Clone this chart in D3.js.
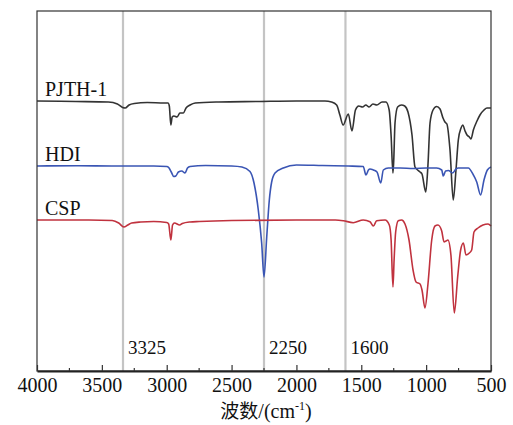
<!DOCTYPE html>
<html>
<head>
<meta charset="utf-8">
<script src="https://cdn.jsdelivr.net/npm/d3@7"></script>
<style>
  body { margin: 0; background: #fff; }
  text { font-family: "Liberation Serif", "Times New Roman", serif; fill: #111; }
</style>
</head>
<body>
<svg id="chart" width="513" height="425"></svg>
<script>
// FTIR spectra of PJTH-1, HDI and CSP (offset for clarity)

// series names, colours and vertical offset of each baseline (a.u.)
const seriesNames = ['PJTH-1', 'HDI', 'CSP'];
const seriesColors = ['#333333', '#3a55b4', '#c0323e'];
const seriesOffsets = [270, 205, 151];

// [wavenumber, change from baseline]
const pjth = [
  [4000, 0], [3700, -0.5], [3450, -1], [3380, -3], [3340, -6.5], [3320, -7], [3290, -4],
  [3250, -2.5], [3150, -1.5], [3020, -2], [2990, -2], [2980, -5], [2968, -24], [2958, -16],
  [2944, -15], [2920, -16], [2898, -12], [2872, -12], [2851, -7], [2820, -4], [2780, -2],
  [2600, -1], [2300, -0.5], [2000, 0], [1780, 0], [1730, -1], [1690, -4], [1665, -14],
  [1640, -24], [1600, -13], [1572, -30], [1545, -9], [1520, -5], [1490, -6], [1465, -4],
  [1440, -6], [1410, -3], [1380, -4], [1340, -1], [1310, -1], [1285, -9], [1270, -35],
  [1256, -72], [1250, -60], [1240, -22], [1220, -6], [1190, -4], [1165, -5], [1140, -11],
  [1109, -34], [1086, -66], [1047, -71], [1032, -73], [1003, -91], [986, -64], [970, -22],
  [947, -9], [919, -5.5], [893, -8], [870, -17], [855, -21], [840, -23], [816, -49],
  [791, -99], [770, -69], [752, -39], [731, -27], [718, -24], [700, -30], [685, -34],
  [667, -36], [654, -38], [636, -29], [608, -20], [585, -14], [554, -9], [531, -7], [500, -7]
];

const hdi = [
  [4000, 0], [3700, 0.3], [3400, 0], [3100, 0], [3000, -0.5], [2985, -1.5], [2965, -6],
  [2945, -10.5], [2930, -10], [2910, -6], [2884, -5], [2859, -7], [2840, -2], [2820, -0.5],
  [2700, 0.5], [2500, 0], [2420, -1], [2358, -5.5], [2327, -17], [2294, -44], [2268, -77],
  [2250, -111], [2229, -71], [2209, -34], [2191, -16], [2165, -7], [2101, -2], [2000, 1],
  [1800, 0.5], [1600, 0], [1485, -0.5], [1464, -9], [1445, -4], [1433, -3], [1407, -4],
  [1379, -6], [1350, -17], [1330, -4], [1292, -2], [1200, -2], [1100, -2.5], [1000, -2],
  [919, -2], [880, -4], [868, -10], [850, -5], [829, -4.5], [795, -7], [770, -3], [752, -2],
  [675, -2], [636, -9], [610, -16], [580, -29], [554, -14], [528, -4], [500, -1]
];

const csp = [
  [4000, 0], [3600, 0], [3420, -0.5], [3370, -3], [3330, -7], [3300, -5], [3270, -3],
  [3200, -2], [3100, -1.5], [3000, -2.5], [2985, -4], [2968, -20], [2955, -5], [2940, -3],
  [2900, -5], [2880, -3.5], [2820, -2], [2750, -1.5], [2500, -0.5], [2000, 0], [1700, 0],
  [1639, -0.7], [1562, -2.7], [1485, 0], [1433, -1.7], [1407, -6], [1381, -0.7], [1317, 0],
  [1284, -5], [1270, -20], [1256, -67], [1247, -40], [1235, -12], [1215, -0.7], [1189, 0],
  [1163, -4], [1132, -20], [1101, -50], [1078, -62], [1047, -64], [1032, -70], [1009, -88],
  [986, -64], [957, -20], [932, -6], [909, -5], [880, -11], [862, -22], [847, -21],
  [832, -20], [809, -35], [783, -93], [757, -57], [734, -30], [713, -23], [693, -35],
  [667, -33], [649, -30], [631, -12], [600, -8], [562, -5], [523, -4], [500, -6]
];

const seriesData = [pjth, hdi, csp];

// marked bands: label and where the guide line sits
const bandLabels = ['3325', '2250', '1600'];
const bandPositions = [3337, 2250, 1622];

const xTicks = [4000, 3500, 3000, 2500, 2000, 1500, 1000, 500];
const xMinorTicks = [3750, 3250, 2750, 2250, 1750, 1250, 750];

const svg = d3.select('#chart');
const margin = { left: 37, right: 22, top: 11, bottom: 54 };
const width = 513, height = 425;

const x = d3.scaleLinear()
  .domain([4000, 500])
  .range([margin.left, width - margin.right]);

const y = d3.scaleLinear()
  .domain([0, 360])
  .range([height - margin.bottom, margin.top]);

// guide lines for the marked bands
svg.append('g')
  .selectAll('line')
  .data(bandPositions)
  .enter()
  .append('line')
  .attr('x1', d => x(d))
  .attr('x2', d => x(d))
  .attr('y1', margin.top)
  .attr('y2', height - margin.bottom)
  .attr('stroke', '#c4c4c4')
  .attr('stroke-width', 2.2);

svg.append('g')
  .selectAll('text')
  .data(bandLabels)
  .enter()
  .append('text')
  .attr('x', (d, i) => x(bandPositions[i]) + 5)
  .attr('y', 354)
  .attr('font-size', 19)
  .text(d => d);

// spectra
const line = d3.line()
  .x(d => x(d[0]))
  .y(d => d[1])
  .curve(d3.curveMonotoneX);

seriesData.forEach((data, i) => {
  const pts = data.map(d => [d[0], y(seriesOffsets[i] + d[1])]);
  svg.append('path')
    .datum(pts)
    .attr('d', line)
    .attr('fill', 'none')
    .attr('stroke', seriesColors[i])
    .attr('stroke-width', 1.6)
    .attr('stroke-linejoin', 'round');
});

// series labels
svg.append('g')
  .selectAll('text')
  .data(seriesNames)
  .enter()
  .append('text')
  .attr('x', 45)
  .attr('y', (d, i) => y(seriesOffsets[i]) - 5)
  .attr('font-size', 20)
  .text(d => d);

// frame
svg.append('rect')
  .attr('x', margin.left)
  .attr('y', margin.top)
  .attr('width', width - margin.left - margin.right)
  .attr('height', height - margin.top - margin.bottom)
  .attr('fill', 'none')
  .attr('stroke', '#333')
  .attr('stroke-width', 1.2);

// bottom axis, ticks pointing inward
const xAxis = svg.append('g')
  .attr('transform', `translate(0,${height - margin.bottom})`)
  .call(d3.axisBottom(x).tickValues(xTicks).tickFormat(d3.format('d'))
    .tickSizeInner(-6).tickSizeOuter(0).tickPadding(7));
xAxis.select('.domain').attr('stroke', '#222').attr('stroke-width', 1.8);
xAxis.selectAll('.tick line').attr('stroke', '#333').attr('stroke-width', 1.2);
xAxis.selectAll('.tick text')
  .attr('font-family', '"Liberation Serif", "Times New Roman", serif')
  .attr('font-size', 20)
  .attr('fill', '#111');

svg.append('g')
  .selectAll('line')
  .data(xMinorTicks)
  .enter()
  .append('line')
  .attr('x1', d => x(d))
  .attr('x2', d => x(d))
  .attr('y1', height - margin.bottom)
  .attr('y2', height - margin.bottom - 3)
  .attr('stroke', '#333')
  .attr('stroke-width', 1.2);

// axis title
const title = svg.append('text')
  .attr('x', (margin.left + width - margin.right) / 2 + 2)
  .attr('y', 418)
  .attr('text-anchor', 'middle')
  .attr('font-size', 20);
title.append('tspan').attr('font-family', '"Noto Sans CJK SC", sans-serif').attr('font-size', 19).text('波数');
title.append('tspan').text('/(cm');
title.append('tspan').attr('font-size', 12).attr('dy', -8).text('-1');
title.append('tspan').attr('dy', 8).text(')');
</script>
</body>
</html>
